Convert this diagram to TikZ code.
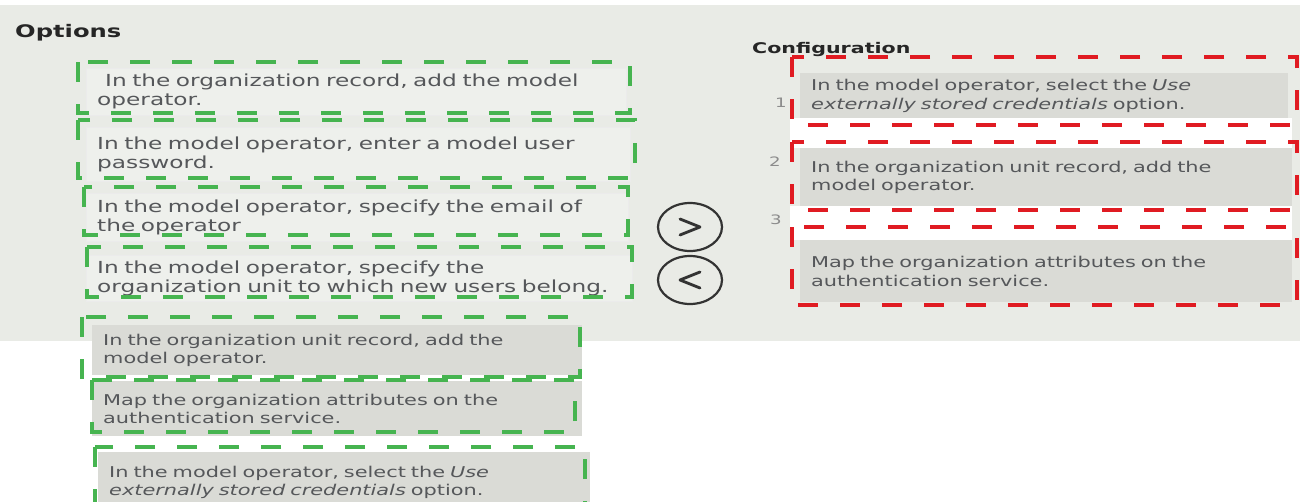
\documentclass[tikz,border=0pt]{standalone}
\usepackage{fontspec}
\setmainfont{DejaVu Sans}[FakeStretch=1.4]
\usetikzlibrary{positioning}
\usetikzlibrary{shapes.geometric}

\definecolor{panelgray}{HTML}{E9EBE6}
\definecolor{itemgray}{HTML}{DADBD6}
\definecolor{optfill}{HTML}{EEF0EC}
\definecolor{txtgray}{HTML}{55575A}
\definecolor{hlgreen}{HTML}{46B450}
\definecolor{hlred}{HTML}{E01B22}

\tikzset{
  opt/.style={anchor=north west, align=left, fill=optfill, draw=black!8, inner xsep=11pt, inner ysep=0pt, text=txtgray, font=\fontsize{16.6}{18.7}\selectfont},
  item/.style={opt, fill=itemgray, draw=none, font=\fontsize{14.9}{18.5}\selectfont},
  greenbox/.style={draw=hlgreen, line width=4.4pt, dash pattern=on 20pt off 22pt},
  redbox/.style={greenbox, draw=hlred},
  title/.style={anchor=west, inner sep=0pt, text=black!85},
  num/.style={inner sep=0pt, text=black!45, font=\fontsize{13}{13}\selectfont},
  btn/.style={draw=black!80, line width=2.2pt, ellipse, minimum width=64pt, minimum height=48pt, inner sep=0pt},
  chev/.style={draw=black!80, line width=2.8pt, line join=round, line cap=round}
}

\begin{document}
\begin{tikzpicture}[x=1pt, y=-1pt]
              \clip (0,0) rectangle (1302,501);
              % Fondo
              \fill[white] (0,0) rectangle (1302,501);
              \fill[panelgray] (0,5) rectangle (1300,341);

              % Opciones
              \node[title, font=\bfseries\fontsize{17.3}{17.3}\selectfont] (options) at (15,33) {Options};
              \node[opt, text width=518pt, minimum height=47pt] (oRec) at (86,68) {\hspace*{8pt}In the organization record, add the model\\operator.};
              \node[opt, text width=522pt, minimum height=54pt] (oPwd) at (86,127) {In the model operator, enter a model user\\password.};
              \node[opt, text width=520pt, minimum height=48pt] (oMail) at (86,193) {In the model operator, specify the email of\\the operator};
              \node[opt, text width=524pt, minimum height=46pt] (oUnit) at (86,255) {In the model operator, specify the\\organization unit to which new users belong.};
              \node[item, text width=468pt, minimum height=50pt] (oUnitRec) at (92,325) {In the organization unit record, add the\\model operator.};
              \node[item, text width=468pt, minimum height=55pt] (oMap) at (92,381) {Map the organization attributes on the\\authentication service.};
              \node[item, text width=470pt, minimum height=60pt] (oExt) at (98,452) {In the model operator, select the \textit{Use}\\\textit{externally stored credentials} option.};

              % Configuracion
              \node[title, font=\bfseries\fontsize{14.7}{14.7}\selectfont] (config) at (752,49) {Configuration};
              \node[item, text width=466pt, minimum height=45pt] (cExt) at (800,73) {In the model operator, select the \textit{Use}\\\textit{externally stored credentials} option.};
              \node[item, text width=470pt, minimum height=58pt] (cUnitRec) at (800,148) {In the organization unit record, add the\\model operator.};
              \node[item, text width=470pt, minimum height=62pt] (cMap) at (800,240) {Map the organization attributes on the\\authentication service.};
              \fill[white] (790,118) rectangle (1292,148);
              \fill[white] (790,206) rectangle (1292,240);
              \node[num] (n1) at (781,103) {1};
              \node[num] (n2) at (775,162) {2};
              \node[num] (n3) at (776,220) {3};

              % Botones
              \node[btn] (fwd) at (690,227) {};
              \node[btn] (back) at (690,280) {};
              \draw[chev] (fwd.center) ++(-10,-8) -- ++(20,8) -- ++(-20,8);
              \draw[chev] (back.center) ++(10,-8) -- ++(-20,8) -- ++(20,8);

              % Marcas
              \draw[greenbox] (78,62) rectangle (630,113);
              \draw[greenbox] (78,120) rectangle (635,178);
              \draw[greenbox] (84,187) rectangle (628,235);
              \draw[greenbox] (87,247) rectangle (632,297);
              \draw[greenbox] (82,317) rectangle (580,377);
              \draw[greenbox] (92,380) rectangle (575,432);
              \draw[greenbox] (95,447) rectangle (585,512);
              \draw[redbox] (792,57) rectangle (1297,125);
              \draw[redbox] (792,142) rectangle (1297,210);
              \draw[redbox] (792,227) rectangle (1297,305);
            \end{tikzpicture}
\end{document}
